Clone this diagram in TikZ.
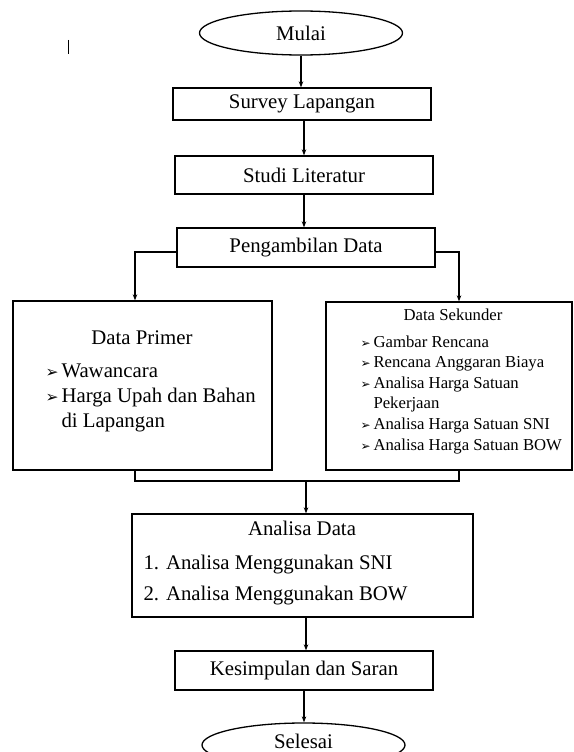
\documentclass[tikz,border=0pt]{standalone}
\usepackage{fontspec}
\setmainfont{Liberation Serif}
\newfontfamily\dejavu{DejaVu Sans}
\usetikzlibrary{shapes.geometric}
\usetikzlibrary{arrows.meta}
\usetikzlibrary{calc}
\newcommand{\butir}[2]{\makebox[#1][l]{\dejavu\fontsize{#2}{#2}\selectfont ➢}}

\begin{document}
\begin{tikzpicture}[x=1pt,y=-1pt,
    kotak/.style={draw, line width=1.3pt, minimum width=258pt, inner sep=0pt},
    oval/.style={ellipse, draw, line width=1.3pt, minimum width=203pt, minimum height=44pt, inner sep=0pt},
    alur/.style={-{Stealth[length=6pt,width=4.5pt]}, line width=1.3pt},
    garis/.style={line width=1.3pt},
    font=\fontsize{20.8}{25}\selectfont]
    \useasboundingbox (0,0) rectangle (573,752);
    \node[oval] (mulai) at (301,33) {Mulai};
    \node[kotak, minimum height=32pt] (survey) at (302,104) {Survey Lapangan};
    \node[kotak, minimum height=38pt] (studi) at (304,175) {Studi Literatur};
    \node[kotak, minimum height=39pt] (ambil) at (306,247.5) {Pengambilan Data};
    \node[kotak, minimum width=259pt, minimum height=169pt] (primer) at (142.5,385.5) {};
    \node[kotak, minimum width=246pt, minimum height=168pt] (sekunder) at (449,386) {};
    \node[kotak, minimum width=341pt, minimum height=103pt] (analisa) at (302.5,565.5) {};
    \node[kotak, minimum height=39pt] (simpul) at (304,670.5) {Kesimpulan dan Saran};
    \node[oval] (selesai) at (303.5,745) {};
    \node[anchor=base] (teksselesai) at (303.5,748) {Selesai};

    \coordinate (kiri) at (135,252);
    \coordinate (kanan) at (459,252);
    \coordinate (bawah) at (306,481);
    \draw[line width=1pt] (68,40) -- (68,54);

    \draw[alur] (mulai.south) -- (mulai.south |- survey.north);
    \draw[alur] (survey.south -| studi.south) -- (studi.north);
    \draw[alur] (studi.south) -- (studi.south |- ambil.north);
    \draw[alur] (ambil.west |- kiri) -- (kiri) -- (kiri |- primer.north);
    \draw[alur] (ambil.east |- kanan) -- (kanan) -- (kanan |- sekunder.north);
    \draw[garis] (kiri |- primer.south) -- (kiri |- bawah) -- (kanan |- bawah) -- (kanan |- sekunder.south);
    \draw[alur] (bawah) -- (bawah |- analisa.north);
    \draw[alur] (analisa.south -| bawah) -- (bawah |- simpul.north);
    \draw[alur] (simpul.south) -- (simpul.south |- selesai.north);

    \node[anchor=base] (judulprimer) at (142,344) {Data Primer};
    \node[anchor=base west] (isiprimer) at (42,377) {\begin{tabular}[t]{@{}l@{}}
        \butir{16pt}{15.5}Wawancara\\
        \butir{16pt}{15.5}Harga Upah dan Bahan\\
        \hspace*{16pt}di Lapangan
    \end{tabular}};

    \node[anchor=base, font=\fontsize{16.7}{20.6}\selectfont] (judulsekunder) at (453,320) {Data Sekunder};
    \node[anchor=base west, font=\fontsize{16.7}{20.6}\selectfont] (isisekunder) at (357,347) {\begin{tabular}[t]{@{}l@{}}
        \butir{13pt}{12}Gambar Rencana\\
        \butir{13pt}{12}Rencana Anggaran Biaya\\
        \butir{13pt}{12}Analisa Harga Satuan\\
        \hspace*{13pt}Pekerjaan\\
        \butir{13pt}{12}Analisa Harga Satuan SNI\\
        \butir{13pt}{12}Analisa Harga Satuan BOW
    \end{tabular}};

    \node[anchor=base] (judulanalisa) at (302,535) {Analisa Data};
    \node[anchor=base west, font=\fontsize{20.8}{31}\selectfont] (isianalisa) at (140,569) {\begin{tabular}[t]{@{}l@{}}
        1. Analisa Menggunakan SNI\\
        2. Analisa Menggunakan BOW
    \end{tabular}};
\end{tikzpicture}
\end{document}
